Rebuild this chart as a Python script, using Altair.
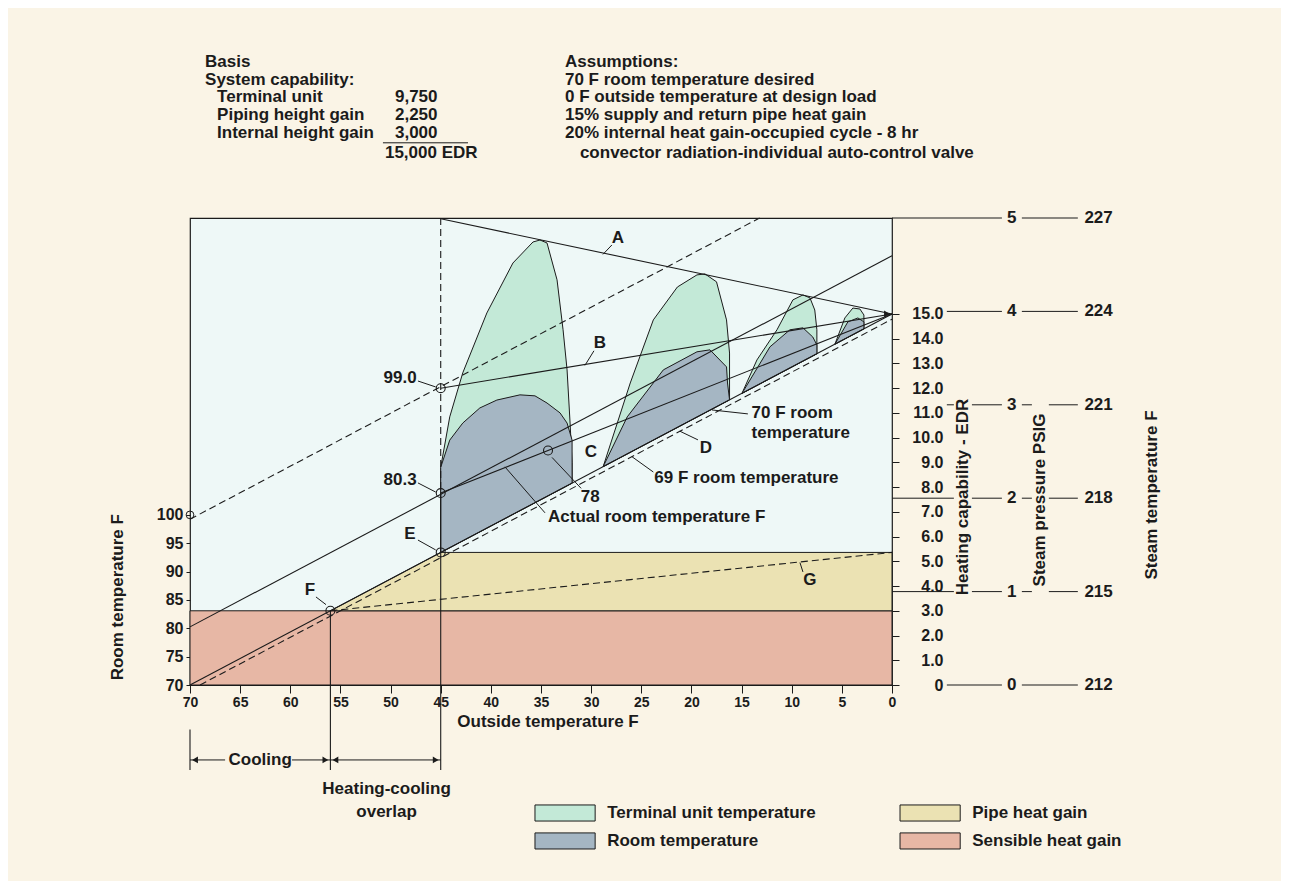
import altair as alt
import pandas as pd

FONT = "Liberation Sans, Arial, Helvetica, sans-serif"
INK = "#1b1b1b"
PAGE_BG = "#faf4e6"
PLOT_BG = "#eef8f7"
TEAL = "#c3e9d7"
SLATE = "#a5b6c3"
KHAKI = "#ebe2b3"
SALMON = "#e7b7a5"
FS = 17

E_TOP = 18.88          # top of the EDR (thousands) scale
ROOM_TOP = 152.36      # matching top of the room-temperature scale

# ---------------- axis tick values ----------------
x_ticks = [70, 65, 60, 55, 50, 45, 40, 35, 30, 25, 20, 15, 10, 5, 0]
edr_ticks = list(range(0, 16))
room_ticks = [70, 75, 80, 85, 90, 95, 100]
pressure_ticks = [0, 1, 2, 3, 4, 5]
steam_ticks = [212, 215, 218, 221, 224, 227]

# ---------------- heat-gain bands ----------------
sensible_T = [70, 0]
sensible_E = [0, 3.0]
pipe_T = [56, 45, 0, 0, 56]
pipe_E = [3.0, 5.36, 5.36, 3.0, 3.0]

# ---------------- humps (outside temp F, EDR) ----------------
terminal_T = [
    [45, 45, 44.1, 42.8, 40.4, 37.8, 35.8, 35.1, 34.4, 33.4, 32.8, 32.4, 32.1, 31.9, 31.9, 45],
    [28.8, 26.1, 23.8, 21.4, 19.45, 18.65, 17.5, 16.5, 16.2, 16.2, 16.2, 28.8],
    [14.96, 13.47, 11.47, 9.88, 8.88, 8.18, 7.7, 7.49, 7.49, 14.96],
    [5.69, 4.7, 3.9, 3.2, 2.8, 2.8, 5.69],
]
terminal_E = [
    [5.36, 8.8, 10.84, 12.62, 15.04, 17.06, 17.91, 17.99, 17.87, 16.38, 14.36, 12.74, 10.59, 8.98, 8.16, 5.36],
    [8.83, 12.21, 14.76, 16.09, 16.58, 16.62, 16.3, 14.76, 13.42, 12.33, 11.53, 8.83],
    [11.79, 13.14, 14.36, 15.57, 15.77, 15.65, 15.16, 14.36, 13.39, 11.79],
    [13.78, 14.84, 15.24, 15.2, 14.96, 14.4, 13.78],
]
room_T = [
    [45, 45, 44.1, 42.8, 41.1, 39.4, 37.1, 35.6, 34.4, 33.1, 32.4, 31.9, 31.9, 31.9, 45],
    [28.8, 26.4, 22.8, 19.45, 18.15, 16.5, 16.4, 16.2, 28.8],
    [14.96, 12.17, 10.18, 8.88, 7.9, 7.49, 7.49, 14.96],
    [5.69, 4.4, 3.4, 2.8, 2.8, 5.69],
]
room_E = [
    [5.36, 8.8, 9.9, 10.59, 11.2, 11.52, 11.73, 11.69, 11.4, 11.0, 10.59, 9.9, 8.98, 8.16, 5.36],
    [8.83, 10.84, 12.74, 13.47, 13.55, 12.86, 12.21, 11.53, 8.83],
    [11.79, 13.67, 14.36, 14.44, 14.07, 13.75, 13.39, 11.79],
    [13.78, 14.68, 14.84, 14.68, 14.4, 13.78],
]

# ---------------- straight lines (T0, E0) -> (T1, E1) ----------------
solid_T0 = [70, 70, 45, 45, 45, 45, 56, 70]
solid_E0 = [0, 2.35, 18.85, 12.0, 7.76, 7.76, 3.0, -1.8]
solid_T1 = [0, 0, 0, 0, 0, 45, 56, 70]
solid_E1 = [15, 17.35, 15, 15, 15, -3.44, -3.44, -3.44]

dashed_T0 = [69, 70, 45, 56]
dashed_E0 = [0, 6.7, 18.88, 3.0]
dashed_T1 = [0, 13.2, 45, 0]
dashed_E1 = [14.79, 18.88, 7.76, 5.36]

# leader lines for the labels
leader_T0 = [47.27, 47.27, 47.27, 57.44, 27.93, 29.72, 33.9, 38.6, 19.35, 14.37, 23.8, 8.88]
leader_E0 = [12.29, 8.17, 5.86, 3.56, 17.79, 13.51, 9.2, 8.82, 9.91, 10.96, 8.61, 4.57]
leader_T1 = [45.5, 45.5, 45.5, 56.44, 28.82, 30.62, 31.0, 34.6, 21.15, 17.96, 25.93, 9.18]
leader_E1 = [12.05, 7.8, 5.46, 3.25, 17.41, 12.92, 7.95, 6.96, 10.26, 11.12, 9.23, 4.95]

# bracket lines below the axis (Cooling / overlap)
bracket_T0 = [70, 59.83, 56]
bracket_T1 = [66.5, 56, 45]
bracket_E = [-3.03, -3.03, -3.03]
arrow_T = [69.5, 56.5, 55.5, 45.5, 0.5]
arrow_E = [-3.03, -3.03, -3.03, -3.03, 15.0]
arrow_shape = ["triangle-left", "triangle-right", "triangle-left", "triangle-right", "triangle-right"]

# circled points
circle_T = [45, 45, 45, 56, 34.3]
circle_E = [12.0, 7.76, 5.36, 3.0, 9.48]

# annotation labels
ann_text = ["99.0", "80.3", "E", "F", "A", "B", "C", "D", "78", "G",
            "Actual room temperature F", "70 F room", "temperature", "69 F room temperature",
            "Cooling", "Heating-cooling", "overlap", "Outside temperature F"]
ann_T = [47.4, 47.4, 48.07, 58.04, 27.33, 29.12, 30.02, 18.55, 30.1, 8.18,
         34.3, 14.0, 14.0, 23.7, 63.0, 50.4, 50.4, 34.3]
ann_E = [12.41, 8.29, 6.11, 3.84, 18.08, 13.83, 9.42, 9.58, 7.6, 4.25,
         6.79, 11.0, 10.19, 8.37, -3.03, -4.22, -5.12, -1.5]
ann_align = ["right", "right", "center", "center", "center", "center", "center", "center", "center", "center",
             "left", "left", "left", "left", "center", "center", "center", "center"]

# header text block
head_text = ["Basis", "System capability:", "Terminal unit", "Piping height gain", "Internal height gain",
             "9,750", "2,250", "3,000", "15,000 EDR",
             "Assumptions:", "70 F room temperature desired", "0 F outside temperature at design load",
             "15% supply and return pipe heat gain", "20% internal heat gain-occupied cycle - 8 hr",
             "convector radiation-individual auto-control valve"]
head_T = [68.5, 68.5, 67.3, 67.3, 67.3, 49.56, 49.56, 49.56, 50.56,
          32.61, 32.61, 32.61, 32.61, 32.61, 31.12]
head_E = [25.19, 24.46, 23.78, 23.05, 22.32, 23.78, 23.05, 22.32, 21.51,
          25.19, 24.46, 23.78, 23.05, 22.32, 21.51]
underline_T = [50.76, 42.28]
underline_E = 21.92

# vertical axis titles
vtitle_text = ["Room temperature F", "Heating capability - EDR", "Steam pressure PSIG", "Steam temperature F"]
vtitle_T = [77.2, -7.07, -14.75, -25.9]
vtitle_E = [3.55, 7.6, 7.48, 7.68]

# legend
legend_names = ["Terminal unit temperature", "Room temperature", "Pipe heat gain", "Sensible heat gain"]
legend_colors = [TEAL, SLATE, KHAKI, SALMON]
legend_T0 = [35.6, 35.6, -0.8, -0.8]
legend_T1 = [29.6, 29.6, -6.8, -6.8]
legend_E0 = [-4.85, -5.98, -4.85, -5.98]
legend_E1 = [-5.5, -6.63, -5.5, -6.63]
legend_textT = [28.4, 28.4, -8.0, -8.0]
legend_textE = [-5.18, -6.31, -5.18, -6.31]

# pressure / steam-temperature scale labels and connectors (pressure units)
press_label_T = -11.95
steam_label_T = -20.6
conn_p = [0, 1, 1, 2, 2, 3, 3, 4, 5,
          0, 1, 1, 2, 2, 3, 3, 4, 5]
conn_T0 = [-5.47, 0, -7.97, 0, -7.97, -5.47, -7.97, -5.47, 0,
           -12.95, -12.95, -15.64, -12.95, -15.64, -12.95, -15.64, -12.95, -12.95]
conn_T1 = [-10.96, -6.17, -10.96, -6.17, -10.96, -6.17, -10.96, -10.96, -10.96,
           -18.53, -13.95, -18.53, -13.95, -18.53, -13.95, -18.53, -18.53, -18.53]

# ---------------- encodings ----------------
x_scale = alt.Scale(domain=[0, 70], reverse=True, nice=False, zero=False)
X = alt.X("T:Q", scale=x_scale,
          axis=alt.Axis(values=x_ticks, title=None, tickSize=8, labelPadding=2, domain=False,
                        grid=False, format="d", labelFlush=False, labelOverlap=False,
                        labelFontSize=14))
e_scale = alt.Scale(domain=[0, E_TOP], nice=False, zero=False)
Y = alt.Y("E:Q", scale=e_scale,
          axis=alt.Axis(orient="right", values=edr_ticks,
                        labelExpr="datum.value == 0 ? '0' : format(datum.value, '.1f')",
                        tickSize=7, labelAlign="right", labelPadding=44, labelBaseline="middle",
                        domain=False, grid=False, title=None, labelOverlap=False, labelFlush=False))


def seg_df(t0, e0, t1, e1):
    return pd.DataFrame({"T": t0, "E": e0, "T2": t1, "E2": e1})


def poly_df(Ts, Es, prefix):
    rows = []
    for k, (ts, es) in enumerate(zip(Ts, Es)):
        for i, (t, e) in enumerate(zip(ts, es)):
            rows.append({"id": f"{prefix}{k}", "i": i, "T": t, "E": e})
    return pd.DataFrame(rows)


sensible = alt.Chart(pd.DataFrame({"T": [sensible_T[0]], "T2": [sensible_T[1]],
                                   "E": [sensible_E[0]], "E2": [sensible_E[1]]})).mark_rect(
    fill=SALMON, stroke=INK, strokeWidth=1).encode(x=X, x2="T2", y=Y, y2="E2")

pipe = alt.Chart(pd.DataFrame({"i": range(len(pipe_T)), "T": pipe_T, "E": pipe_E})).mark_line(
    fill=KHAKI, stroke=INK, strokeWidth=1).encode(x=X, y=Y, order="i:Q")

terminal = alt.Chart(poly_df(terminal_T, terminal_E, "t")).mark_line(
    fill=TEAL, stroke=INK, strokeWidth=1).encode(x=X, y=Y, detail="id:N", order="i:Q")
roomh = alt.Chart(poly_df(room_T, room_E, "r")).mark_line(
    fill=SLATE, stroke=INK, strokeWidth=1).encode(x=X, y=Y, detail="id:N", order="i:Q")

solid = alt.Chart(seg_df(solid_T0, solid_E0, solid_T1, solid_E1)).mark_rule(
    color=INK, strokeWidth=1.1).encode(x=X, x2="T2", y=Y, y2="E2")
dashed = alt.Chart(seg_df(dashed_T0, dashed_E0, dashed_T1, dashed_E1)).mark_rule(
    color=INK, strokeWidth=1.1, strokeDash=[7, 4]).encode(x=X, x2="T2", y=Y, y2="E2")
leaders = alt.Chart(seg_df(leader_T0, leader_E0, leader_T1, leader_E1)).mark_rule(
    color=INK, strokeWidth=1).encode(x=X, x2="T2", y=Y, y2="E2")
brackets = alt.Chart(seg_df(bracket_T0, bracket_E, bracket_T1, bracket_E)).mark_rule(
    color=INK, strokeWidth=1).encode(x=X, x2="T2", y=Y)
arrows = alt.Chart(pd.DataFrame({"T": arrow_T, "E": arrow_E, "s": arrow_shape})).mark_point(
    filled=True, color=INK, size=45, opacity=1).encode(
    x=X, y=Y, shape=alt.Shape("s:N", scale=None, legend=None))
circles = alt.Chart(pd.DataFrame({"T": circle_T, "E": circle_E})).mark_point(
    shape="circle", size=80, filled=False, stroke=INK, strokeWidth=1.1, opacity=1).encode(x=X, y=Y)

ann = pd.DataFrame({"text": ann_text, "T": ann_T, "E": ann_E, "align": ann_align})
ann_layers = [
    alt.Chart(ann[ann["align"] == a]).mark_text(align=a, baseline="middle", fontSize=FS).encode(
        x=X, y=Y, text="text:N")
    for a in ["left", "center", "right"]
]

head = alt.Chart(pd.DataFrame({"text": head_text, "T": head_T, "E": head_E})).mark_text(
    align="left", baseline="middle", fontSize=FS).encode(x=X, y=Y, text="text:N")
underline = alt.Chart(pd.DataFrame({"T": [underline_T[0]], "T2": [underline_T[1]], "E": [underline_E]})).mark_rule(
    color=INK, strokeWidth=1).encode(x=X, x2="T2", y=Y)

vtitles = alt.Chart(pd.DataFrame({"text": vtitle_text, "T": vtitle_T, "E": vtitle_E})).mark_text(
    angle=270, align="center", baseline="middle", fontSize=FS).encode(x=X, y=Y, text="text:N")

leg_df = pd.DataFrame({"name": legend_names, "T": legend_T0, "T2": legend_T1,
                       "E": legend_E0, "E2": legend_E1})
leg_boxes = alt.Chart(leg_df).mark_rect(stroke=INK, strokeWidth=1).encode(
    x=X, x2="T2", y=Y, y2="E2",
    fill=alt.Fill("name:N", scale=alt.Scale(domain=legend_names, range=legend_colors), legend=None))
leg_tdf = pd.DataFrame({"name": legend_names, "T": legend_textT, "E": legend_textE})
leg_text = alt.Chart(leg_tdf).mark_text(align="left", baseline="middle", fontSize=FS).encode(
    x=X, y=Y, text="name:N")

main = alt.layer(sensible, pipe, terminal, roomh, solid, dashed, leaders, brackets, arrows, circles,
                 *ann_layers, head, underline, vtitles, leg_boxes, leg_text)

# room-temperature (left) axis: the 100 F point on the left edge
R = alt.Y("R:Q", scale=alt.Scale(domain=[70, ROOM_TOP], nice=False, zero=False),
          axis=alt.Axis(orient="left", values=room_ticks, tickSize=4, labelPadding=3, domain=False,
                        grid=False, title=None, labelOverlap=False, labelFlush=False))
room_layer = alt.Chart(pd.DataFrame({"T": [70], "R": [100]})).mark_point(
    shape="circle", size=60, filled=False, stroke=INK, strokeWidth=1, opacity=1).encode(x=X, y=R)

# pressure and steam temperature scales
P = alt.Y("p:Q", scale=alt.Scale(domain=[0, 5], nice=False, zero=False), axis=None)
press_df = pd.DataFrame({"p": pressure_ticks, "T": [press_label_T] * 6,
                         "ptxt": [str(v) for v in pressure_ticks]})
steam_df = pd.DataFrame({"p": pressure_ticks, "T": [steam_label_T] * 6,
                         "stxt": [str(v) for v in steam_ticks]})
conn_df = pd.DataFrame({"p": conn_p, "T": conn_T0, "T2": conn_T1})
press_layer = alt.layer(
    alt.Chart(conn_df).mark_rule(color=INK, strokeWidth=1).encode(x=X, x2="T2", y=P),
    alt.Chart(press_df).mark_text(align="center", baseline="middle", fontSize=FS).encode(x=X, y=P, text="ptxt:N"),
    alt.Chart(steam_df).mark_text(align="center", baseline="middle", fontSize=FS).encode(x=X, y=P, text="stxt:N"),
)

chart = alt.layer(main, room_layer, press_layer).resolve_scale(y="independent").properties(
    width=702, height=467,
    autosize=alt.AutoSizeParams(type="none"),
    padding={"left": 182, "top": 210, "right": 389, "bottom": 196},
    background=PAGE_BG,
).configure_view(fill=PLOT_BG, stroke=INK, strokeWidth=1.2).configure_axis(
    labelFont=FONT, labelFontWeight="bold", labelFontSize=16, labelColor=INK,
    tickColor=INK, tickWidth=1,
).configure_text(font=FONT, fontWeight="bold", color=INK)

chart.save("out.html", embed_options={"renderer": "svg", "actions": False})
